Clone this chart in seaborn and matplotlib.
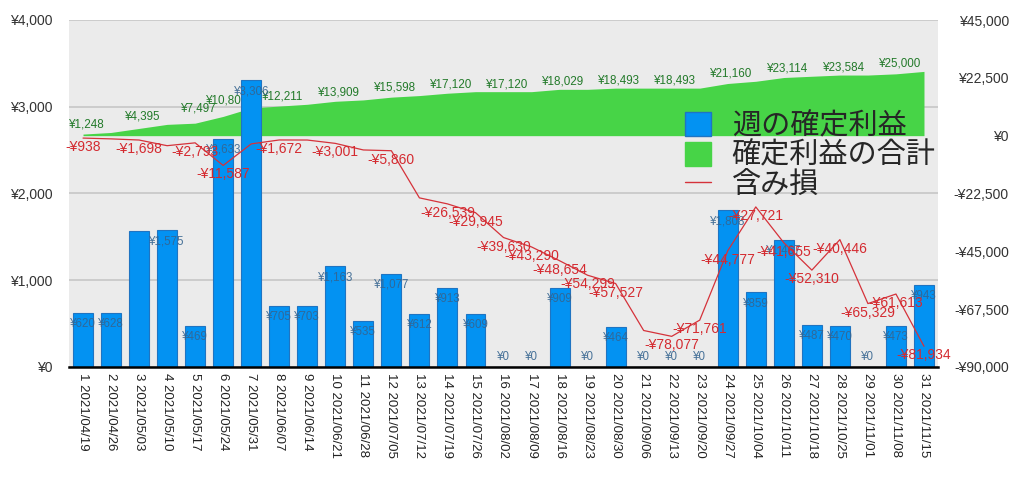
import matplotlib
matplotlib.use("Agg")
import matplotlib.pyplot as plt
from matplotlib.patches import Patch
from matplotlib.lines import Line2D
import seaborn as sns
import numpy as np

# data
dates = ['2021/04/19', '2021/04/26', '2021/05/03', '2021/05/10', '2021/05/17', '2021/05/24',
         '2021/05/31', '2021/06/07', '2021/06/14', '2021/06/21', '2021/06/28', '2021/07/05',
         '2021/07/12', '2021/07/19', '2021/07/26', '2021/08/02', '2021/08/09', '2021/08/16',
         '2021/08/23', '2021/08/30', '2021/09/06', '2021/09/13', '2021/09/20', '2021/09/27',
         '2021/10/04', '2021/10/11', '2021/10/18', '2021/10/25', '2021/11/01', '2021/11/08',
         '2021/11/15']
week_labels = [f"{i + 1} {d}" for i, d in enumerate(dates)]

# 週の確定利益 (left axis)
weekly_profit = [620, 628, 1572, 1575, 469, 2633, 3306, 705, 703, 1163, 535, 1077, 612, 913, 609,
                 0, 0, 909, 0, 464, 0, 0, 0, 1808, 859, 1467, 487, 470, 0, 473, 943]
# 確定利益の合計 (right axis)
total_profit = [620, 1248, 2820, 4395, 4864, 7497, 10803, 11508, 12211, 13374, 13909, 14986,
                15598, 16511, 17120, 17120, 17120, 18029, 18029, 18493, 18493, 18493, 18493,
                20301, 21160, 22627, 23114, 23584, 23584, 24057, 25000]
# 含み損 (right axis)
unrealized = [-938, -1250, -1698, -3900, -2793, -11587, -3200, -1672, -1700, -3001, -5560, -5860,
              -24200, -26539, -29945, -39630, -43290, -48654, -54299, -57527, -75800, -78077,
              -71761, -44777, -27721, -41655, -52310, -40446, -65329, -61613, -81934]

# which weeks carry a visible data label in the original
bar_label_weeks = [1, 2, 4, 5, 6, 7, 8, 9, 10, 11, 12, 13, 14, 15, 16, 17, 18, 19, 20, 21, 22, 23,
                   24, 25, 26, 27, 28, 29, 30, 31]
total_label_weeks = [2, 4, 6, 7, 9, 11, 13, 15, 17, 19, 21, 23, 25, 27, 29, 31]
loss_label_weeks = [1, 3, 5, 6, 8, 10, 12, 14, 15, 16, 17, 18, 19, 20, 22, 23, 24, 25, 26, 27,
                    28, 29, 30, 31]

left_ticks = [0, 1000, 2000, 3000, 4000]
left_tick_labels = ['¥0', '¥1,000', '¥2,000', '¥3,000', '¥4,000']
right_ticks = [-90000, -67500, -45000, -22500, 0, 22500, 45000]
right_tick_labels = ['-¥90,000', '-¥67,500', '-¥45,000', '-¥22,500', '¥0', '¥22,500', '¥45,000']

legend_labels = ['週の確定利益', '確定利益の合計', '含み損']

BLUE = '#0392f2'
GREEN = '#47d447'
RED = '#d5323a'

sns.set_theme(style="white")
plt.rcParams['font.family'] = ['Liberation Sans', 'Noto Sans CJK JP', 'DejaVu Sans']


def yen(v):
    s = f"¥{abs(v):,}"
    return "-" + s if v < 0 else s


fig = plt.figure(figsize=(10.24, 4.78), dpi=100)
ax = fig.add_axes([69 / 1024, 1 - 367 / 478, (938 - 69) / 1024, (367 - 20) / 478])
ax.set_facecolor('#ebebeb')
ax.set_ylim(0, 4000)
ax.set_yticks(left_ticks)
ax.set_yticklabels(left_tick_labels)
ax.grid(axis='y', color='#c6c6c6', linewidth=1.2)
ax.grid(axis='x', visible=False)
ax.tick_params(axis='y', length=0, pad=12, labelsize=10, labelcolor='#333333')

# cumulative total as area (right scale, bottom layer)
axr = ax.twinx()
x_pos = np.arange(len(total_profit))
axr.fill_between(x_pos, 0, total_profit, color=GREEN, linewidth=0)
axr.set_ylim(-90000, 45000)
axr.set_yticks(right_ticks)
axr.set_yticklabels(right_tick_labels)
axr.tick_params(axis='y', length=0, pad=51, labelsize=10, labelcolor='#333333')
for lbl in axr.get_yticklabels():
    lbl.set_horizontalalignment('right')
for w in total_label_weeks:
    v = total_profit[w - 1]
    axr.annotate(yen(v), (w - 1, v), xytext=(-17.5, 5.5), textcoords='offset points',
                 ha='center', va='center', fontsize=8.4, color='#237a2a')

# weekly profit bars (left scale)
axb = ax.twinx()
sns.barplot(x=week_labels, y=weekly_profit, ax=axb, color=BLUE, saturation=1, width=0.71,
            edgecolor='#1f74c2', linewidth=0.8)
axb.set_ylim(0, 4000)
axb.set_yticks([])
axb.set_xlabel('')
axb.set_ylabel('')
for w in bar_label_weeks:
    v = weekly_profit[w - 1]
    dy = -8 if v > 0 else 7
    axb.annotate(yen(v), (w - 1, v), xytext=(0, dy), textcoords='offset points',
                 ha='center', va='center', fontsize=8.3, color='#35648f', alpha=0.9)

# unrealized loss line (right scale, top layer)
axl = ax.twinx()
sns.lineplot(x=x_pos, y=unrealized, ax=axl, color=RED, linewidth=0.9)
axl.set_ylim(-90000, 45000)
axl.set_yticks([])
axl.set_ylabel('')
for w in loss_label_weeks:
    v = unrealized[w - 1]
    axl.annotate(yen(v), (w - 1, v), xytext=(0, -6.5), textcoords='offset points',
                 ha='center', va='center', fontsize=10, color='#d42a30')

for a in (ax, axr, axb, axl):
    for s in a.spines.values():
        s.set_visible(False)
axl.spines['bottom'].set_visible(True)
axl.spines['bottom'].set_color('black')
axl.spines['bottom'].set_linewidth(1.8)

ax.set_xticks(range(len(week_labels)))
ax.set_xticklabels(week_labels, rotation=270, ha='center', va='top', fontsize=9.5,
                   color='#222222')
ax.tick_params(axis='x', length=0, pad=4)
ax.set_xlim(-0.5, len(week_labels) - 0.5)

handles = [Patch(facecolor=BLUE, edgecolor='#1f74c2'),
           Patch(facecolor=GREEN, edgecolor=GREEN),
           Line2D([0], [0], color=RED, linewidth=1)]
fig.legend(handles, legend_labels, loc='upper left', bbox_to_anchor=(685 / 1024, 1 - 112 / 478),
           frameon=False, fontsize=21, handlelength=0.9, handleheight=0.9, handletextpad=0.7,
           labelspacing=0.05, borderpad=0, borderaxespad=0)

fig.savefig('out.png', dpi=100)
